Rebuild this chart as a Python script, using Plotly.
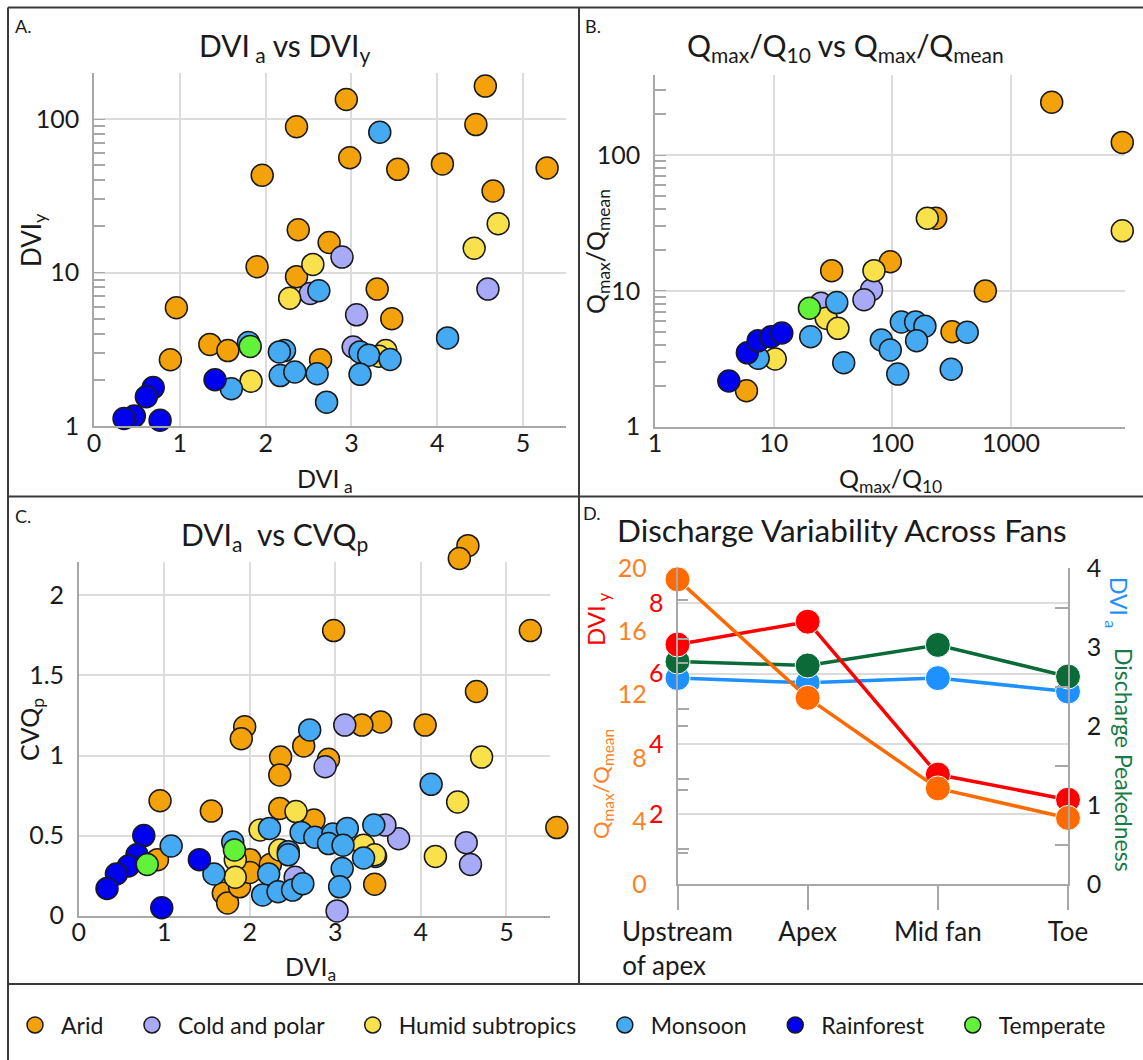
import plotly.graph_objects as go

W, H = 1143, 1060
FONT = "Lato"
INK = "#1a1a1a"
AXIS_GRAY = "#a8a8a8"
GRID_GRAY = "#dcdcdc"

# ---- climate groups (legend order = drawing order) ----
climates = ["Arid", "Cold and polar", "Humid subtropics", "Monsoon", "Rainforest", "Temperate"]
climate_colors = ["#F3A20B", "#A9AAF7", "#F9E14B", "#46AAF2", "#0000F0", "#62F23A"]

# ---- Panel A: DVI_a vs DVI_y ----
a_arid_x = [4.56, 2.94, 2.36, 4.45, 2.98, 3.54, 4.06, 5.28, 1.96, 4.65, 2.38, 2.74, 1.90, 2.36, 3.30, 3.47, 0.96, 1.35, 1.56, 0.89, 2.64]
a_arid_y = [164, 134, 89, 92, 56, 47, 51, 48, 43, 34, 19, 15.7, 10.9, 9.4, 7.8, 5.0, 5.9, 3.4, 3.1, 2.7, 2.7]
a_cold_x = [2.89, 4.59, 3.06, 2.52, 3.02]
a_cold_y = [12.6, 7.8, 5.3, 7.3, 3.27]
a_humid_x = [4.71, 4.43, 2.55, 2.28, 3.40, 3.32, 1.83]
a_humid_y = [20.8, 14.4, 11.3, 6.8, 3.1, 2.85, 1.96]
a_monsoon_x = [3.33, 2.62, 4.12, 1.80, 2.22, 2.16, 3.10, 3.20, 3.45, 1.60, 2.17, 2.34, 2.60, 3.10, 2.71]
a_monsoon_y = [82, 7.6, 3.75, 3.5, 3.1, 3.04, 3.04, 2.89, 2.71, 1.75, 2.13, 2.25, 2.19, 2.17, 1.43]
a_rain_x = [1.41, 0.69, 0.61, 0.47, 0.35, 0.77]
a_rain_y = [2.0, 1.78, 1.55, 1.16, 1.12, 1.09]
a_temp_x = [1.82]
a_temp_y = [3.3]

# ---- Panel B: Qmax/Q10 vs Qmax/Qmean ----
b_arid_x = [2200, 8650, 232, 96, 30.8, 607, 318, 5.9]
b_arid_y = [245, 124, 34.3, 16.4, 14.1, 10, 5.0, 1.84]
b_cold_x = [66.8, 57.6, 25]
b_cold_y = [10.2, 8.6, 8.1]
b_humid_x = [197, 8650, 70, 27.7, 34.8, 10.3]
b_humid_y = [34.3, 27.7, 14.1, 6.3, 5.3, 3.15]
b_monsoon_x = [34, 20.5, 38.9, 119, 157, 188, 80.7, 96, 160, 111, 427, 313, 7.4]
b_monsoon_y = [8.2, 4.6, 2.96, 5.9, 5.9, 5.5, 4.35, 3.67, 4.3, 2.44, 4.96, 2.65, 3.19]
b_rain_x = [4.19, 6.0, 7.4, 9.5, 11.7]
b_rain_y = [2.17, 3.5, 4.3, 4.6, 4.9]
b_temp_x = [20]
b_temp_y = [7.45]

# ---- Panel C: DVI_a vs CVQ_p ----
c_arid_x = [4.55, 4.45, 2.98, 5.28, 4.65, 3.53, 3.31, 4.05, 1.94, 1.90, 2.63, 2.36, 2.92, 2.35, 0.95, 1.55, 2.35, 2.75, 5.59, 3.46, 0.92, 1.69, 1.74, 1.88, 2.0, 2.0, 2.24]
c_arid_y = [2.31, 2.23, 1.78, 1.78, 1.40, 1.21, 1.19, 1.19, 1.18, 1.105, 1.06, 0.99, 0.976, 0.878, 0.718, 0.653, 0.67, 0.597, 0.55, 0.196, 0.35, 0.14, 0.08, 0.18, 0.35, 0.27, 0.32]
c_cold_x = [3.11, 2.88, 3.74, 3.58, 4.53, 4.58, 3.02, 2.53, 3.47]
c_cold_y = [1.19, 0.93, 0.48, 0.566, 0.456, 0.32, 0.03, 0.24, 0.37]
c_humid_x = [4.71, 4.43, 2.54, 4.17, 2.12, 3.33, 2.35, 1.83, 1.83, 3.46]
c_humid_y = [0.99, 0.71, 0.65, 0.37, 0.535, 0.44, 0.41, 0.35, 0.24, 0.38]
c_monsoon_x = [2.70, 4.12, 1.08, 1.80, 2.23, 2.60, 2.76, 2.97, 3.14, 3.45, 2.92, 3.09, 2.45, 2.45, 1.58, 2.22, 3.08, 3.05, 3.33, 2.15, 2.33, 2.50, 2.62]
c_monsoon_y = [1.16, 0.82, 0.435, 0.46, 0.545, 0.52, 0.49, 0.51, 0.545, 0.566, 0.45, 0.44, 0.40, 0.38, 0.26, 0.26, 0.295, 0.18, 0.36, 0.13, 0.15, 0.16, 0.20]
c_rain_x = [0.76, 0.68, 0.58, 0.44, 0.33, 1.41, 0.97]
c_rain_y = [0.50, 0.38, 0.31, 0.26, 0.17, 0.35, 0.05]
c_temp_x = [0.80, 1.82]
c_temp_y = [0.32, 0.41]

# ---- Panel D: discharge variability along the fan ----
fan_positions = ["Upstream<br>of apex\u00a0\u00a0\u00a0\u00a0", "Apex", "Mid fan", "Toe"]
qmax_qmean = [19.3, 11.8, 6.07, 4.2]
dvi_y = [6.83, 7.48, 3.125, 2.41]
peakedness = [2.82, 2.77, 3.03, 2.63]
dvi_a = [2.61, 2.55, 2.61, 2.44]

C_ORANGE = "#FF6A00"
C_ORANGE_TXT = "#FF7F27"
C_RED = "#FF0000"
C_GREEN = "#0A6B38"
C_GREEN_TXT = "#187A45"
C_BLUE = "#1E90FF"


def fx(px):
    return px / W


def fy(py):
    return 1 - py / H


# pixel frames of the plotting areas
A_L, A_R, A_B, A_T = 94, 566, 426, 73
B_L, B_R, B_B, B_T = 655, 1125, 426.7, 75
C_L, C_R, C_B, C_T = 78.8, 550, 915.7, 561.7
D_L, D_R, D_B, D_T = 677.5, 1068, 884.3, 568.3
C_XMAX, C_YMAX = 5.51, 2.21
# panel C markers sit on a hidden, larger frame with the identical scale so
# that markers poking beyond the axes (top and right) are still drawn
C_R_EXT, C_T_EXT = 585, 520
C_XMAX_EXT = C_XMAX * (C_R_EXT - C_L) / (C_R - C_L)
C_YMAX_EXT = C_YMAX * (C_B - C_T_EXT) / (C_B - C_T)

fig = go.Figure()

# keeps the visible panel-C axes in place (its markers live on the hidden frame)
fig.add_trace(go.Scatter(x=[], y=[], xaxis="x3", yaxis="y3", showlegend=False,
                         hoverinfo="skip"))

panels = [
    ("x", "y", [(a_arid_x, a_arid_y), (a_cold_x, a_cold_y), (a_humid_x, a_humid_y),
                (a_monsoon_x, a_monsoon_y), (a_rain_x, a_rain_y), (a_temp_x, a_temp_y)]),
    ("x2", "y2", [(b_arid_x, b_arid_y), (b_cold_x, b_cold_y), (b_humid_x, b_humid_y),
                  (b_monsoon_x, b_monsoon_y), (b_rain_x, b_rain_y), (b_temp_x, b_temp_y)]),
    ("x5", "y7", [(c_arid_x, c_arid_y), (c_cold_x, c_cold_y), (c_humid_x, c_humid_y),
                  (c_monsoon_x, c_monsoon_y), (c_rain_x, c_rain_y), (c_temp_x, c_temp_y)]),
]

# trailing spacing widens the gaps between legend entries
PAD = "\u00a0" * 3
for p_i, (xa, ya, series) in enumerate(panels):
    for k, (xs, ys) in enumerate(series):
        name = climates[k] + (PAD if k < len(climates) - 1 else "")
        fig.add_trace(go.Scatter(
            x=xs, y=ys, mode="markers", name=name,
            legendgroup=climates[k], showlegend=(p_i == 0),
            xaxis=xa, yaxis=ya, cliponaxis=False,
            marker=dict(size=22, color=climate_colors[k],
                        line=dict(color="#1a1a1a", width=1.5)),
            hoverinfo="x+y",
        ))

# Panel D lines: right axis (DVI_a, peakedness), then DVI_y, then Qmax/Qmean
line_series = [
    (dvi_a, C_BLUE, "y4"),
    (peakedness, C_GREEN, "y4"),
    (dvi_y, C_RED, "y5"),
    (qmax_qmean, C_ORANGE, "y6"),
]
for vals, col, ya in line_series:
    fig.add_trace(go.Scatter(
        x=fan_positions, y=vals, mode="lines+markers", showlegend=False,
        xaxis="x4", yaxis=ya, cliponaxis=False,
        line=dict(color=col, width=3.5),
        marker=dict(size=25, color=col, line=dict(color="white", width=1)),
    ))

tickfont = dict(family=FONT, size=25, color=INK)
base_axis = dict(showline=True, linecolor=AXIS_GRAY, linewidth=1.5,
                 showgrid=True, gridcolor=GRID_GRAY, gridwidth=1.5,
                 zeroline=False, tickfont=tickfont, ticks="")
log_minor = dict(ticks="inside", ticklen=11, tickcolor=AXIS_GRAY, tickwidth=1.5,
                 dtick="D1", showgrid=False)

fig.update_layout(
    width=W, height=H,
    margin=dict(l=0, r=0, t=0, b=0, autoexpand=False),
    paper_bgcolor="white", plot_bgcolor="rgba(0,0,0,0)",
    font=dict(family=FONT, color=INK),
    # Panel A
    xaxis=dict(base_axis, domain=[fx(A_L), fx(A_R)], range=[0, 5.5], dtick=1,
               anchor="y", ticklabelstandoff=-6),
    yaxis=dict(base_axis, type="log", domain=[fy(A_B), fy(A_T)], range=[0, 2.3], dtick=1,
               anchor="x", ticks="inside", ticklen=11, tickcolor=AXIS_GRAY,
               minor=log_minor, ticklabelstandoff=8),
    # Panel B
    xaxis2=dict(base_axis, type="log", domain=[fx(B_L), fx(B_R)], range=[0, 3.96], dtick=1,
                anchor="y2", exponentformat="none", ticklabelstandoff=-6),
    yaxis2=dict(base_axis, type="log", domain=[fy(B_B), fy(B_T)], range=[0, 2.59], dtick=1,
                anchor="x2", ticks="inside", ticklen=11, tickcolor=AXIS_GRAY,
                minor=log_minor, ticklabelstandoff=8),
    # Panel C (visible axes)
    xaxis3=dict(base_axis, domain=[fx(C_L), fx(C_R)], range=[0, C_XMAX], dtick=1,
                anchor="y3", ticklabelstandoff=-6),
    yaxis3=dict(base_axis, domain=[fy(C_B), fy(C_T)], range=[0, C_YMAX], dtick=0.5,
                anchor="x3", ticklabelstandoff=8),
    # Panel C (hidden frame carrying the markers)
    xaxis5=dict(domain=[fx(C_L), fx(C_R_EXT)], range=[0, C_XMAX_EXT], anchor="y7",
                visible=False, showgrid=False, zeroline=False),
    yaxis7=dict(domain=[fy(C_B), fy(C_T_EXT)], range=[0, C_YMAX_EXT], anchor="x5",
                visible=False, showgrid=False, zeroline=False),
    # Panel D
    xaxis4=dict(domain=[fx(D_L), fx(D_R)], anchor="y4", type="category",
                range=[0, 3], showline=True, linecolor=AXIS_GRAY, linewidth=1.5,
                showgrid=False, zeroline=False, ticks="outside", ticklen=24,
                tickcolor=AXIS_GRAY, tickwidth=1.5,
                tickfont=dict(family=FONT, size=26, color=INK)),
    yaxis4=dict(domain=[fy(D_B), fy(D_T)], anchor="x4", side="right",
                range=[0, 4], dtick=1, showline=True, linecolor=AXIS_GRAY, linewidth=1.5,
                showgrid=False, zeroline=False, ticks="", tickfont=tickfont,
                ticklabelstandoff=12,
                minor=dict(tickmode="array", tickvals=[0.5, 1.5, 2.5, 3.5], ticks="inside",
                           ticklen=13, tickcolor=AXIS_GRAY, tickwidth=1.5, showgrid=False)),
    yaxis5=dict(overlaying="y4", anchor="x4", side="left", range=[0, 9],
                tickmode="array", tickvals=[2, 4, 6, 8], showline=False,
                showgrid=True, gridcolor=GRID_GRAY, gridwidth=1.5, zeroline=False,
                ticks="", tickfont=dict(family=FONT, size=25, color=C_RED),
                ticklabelstandoff=13,
                minor=dict(tickmode="array", tickvals=[1, 3, 5, 7], ticks="inside",
                           ticklen=11, tickcolor=AXIS_GRAY, tickwidth=1.5, showgrid=False)),
    yaxis6=dict(overlaying="y4", anchor="x4", side="left", range=[0, 20],
                tickmode="array", tickvals=[0, 4, 8, 12, 16, 20], showline=True,
                linecolor=AXIS_GRAY, linewidth=1.5, showgrid=False, zeroline=False,
                ticks="", tickfont=dict(family=FONT, size=25, color=C_ORANGE_TXT),
                ticklabelstandoff=24,
                minor=dict(tickmode="array", tickvals=[2, 6, 10, 14, 18], ticks="inside",
                           ticklen=11, tickcolor=AXIS_GRAY, tickwidth=1.5, showgrid=False)),
    legend=dict(orientation="h", x=fx(9), y=fy(1025), xanchor="left", yanchor="middle",
                font=dict(family=FONT, size=23, color=INK), itemwidth=42,
                bgcolor="rgba(0,0,0,0)", borderwidth=0),
    showlegend=True,
)


def note(text, x, y, size, color=INK, angle=0, xanchor="center", yanchor="middle"):
    fig.add_annotation(text=text, x=fx(x), y=fy(y), xref="paper", yref="paper",
                       showarrow=False, textangle=angle, xanchor=xanchor, yanchor=yanchor,
                       font=dict(family=FONT, size=size, color=color))


# panel letters
note("A.", 13, 26, 18, xanchor="left")
note("B.", 583, 26, 18, xanchor="left")
note("C.", 13, 516, 18, xanchor="left")
note("D.", 581, 513, 18, xanchor="left")

# panel titles
note("DVI<sub> a</sub> vs DVI<sub>y</sub>", 284, 47, 30)
note("Q<sub>max</sub>/Q<sub>10</sub> vs Q<sub>max</sub>/Q<sub>mean</sub>", 845, 47, 30)
note("DVI<sub>a</sub>  vs CVQ<sub>p</sub>", 274, 536, 30)
note("Discharge Variability Across Fans", 842, 530, 31.5)

# axis titles
note("DVI<sub> a</sub>", 325, 480, 25)
note("DVI<sub>y</sub>", 33, 240, 26, angle=-90)
note("Q<sub>max</sub>/Q<sub>10</sub>", 890, 480, 25)
note("Q<sub>max</sub>/Q<sub>mean</sub>", 597, 252, 25, angle=-90)
note("DVI<sub>a</sub>", 311, 968, 25)
note("CVQ<sub>p</sub>", 31, 730, 25, angle=-90)
note("DVI<sub> y</sub>", 597, 619, 24, color=C_RED, angle=-90)
note("Q<sub>max</sub>/Q<sub>mean</sub>", 602, 784, 22, color=C_ORANGE_TXT, angle=-90)
note("DVI<sub> a</sub>", 1118, 602, 23, color=C_BLUE, angle=90)
note("Discharge Peakedness", 1124, 760, 23, color=C_GREEN_TXT, angle=90)

# frame lines separating the four panels and the legend strip
frame = dict(color="#3a3a3a", width=2)
for x0, y0, x1, y1 in [(8, 7.5, 1143, 7.5), (8, 7.5, 8, 1060), (579, 7.5, 579, 984),
                       (8, 496.5, 1143, 496.5), (8, 984, 1143, 984)]:
    fig.add_shape(type="line", xref="paper", yref="paper",
                  x0=fx(x0), y0=fy(y0), x1=fx(x1), y1=fy(y1), line=frame)

fig.write_html("out.html")
